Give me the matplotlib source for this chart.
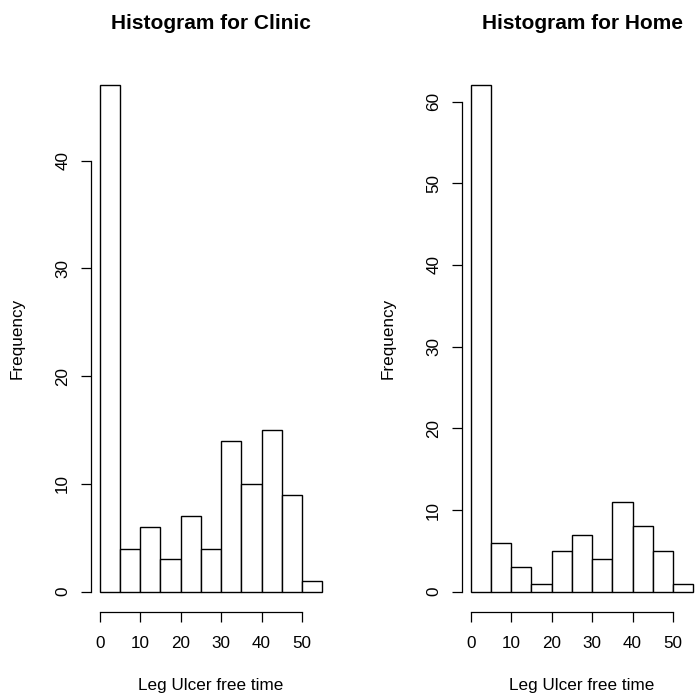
import numpy as np
import matplotlib
matplotlib.use("Agg")
import matplotlib.pyplot as plt

plt.rcParams['font.family'] = ['Liberation Sans', 'DejaVu Sans']

# bin edges (width 5) and counts
bin_edges = [0, 5, 10, 15, 20, 25, 30, 35, 40, 45, 50, 55]
clinic_counts = [47, 4, 6, 3, 7, 4, 14, 10, 15, 9, 1]
home_counts = [62, 6, 3, 1, 5, 7, 4, 11, 8, 5, 1]

x_ticks = [0, 10, 20, 30, 40, 50]
clinic_yticks = [0, 10, 20, 30, 40]
home_yticks = [0, 10, 20, 30, 40, 50, 60]

titles = ["Histogram for Clinic", "Histogram for Home"]
xlabel = "Leg Ulcer free time"
ylabel = "Frequency"

fig = plt.figure(figsize=(6.97, 6.95), dpi=100)
W, H = 697, 695


def r_hist(ax, counts, yticks, title):
    edges = np.array(bin_edges, dtype=float)
    widths = np.diff(edges)
    ax.bar(edges[:-1], counts, width=widths, align='edge',
           color='white', edgecolor='black', linewidth=1.0)
    # R style 4% padding
    xr = edges[-1] - edges[0]
    ax.set_xlim(edges[0] - 0.04 * xr, edges[-1] + 0.04 * xr)
    ymax = max(counts)
    ax.set_ylim(-0.04 * ymax, ymax * 1.04)
    for s in ['top', 'right']:
        ax.spines[s].set_visible(False)
    ax.spines['left'].set_bounds(yticks[0], yticks[-1])
    ax.spines['bottom'].set_bounds(x_ticks[0], x_ticks[-1])
    ax.spines['left'].set_linewidth(0.9)
    ax.spines['bottom'].set_linewidth(0.9)
    ax.set_xticks(x_ticks)
    ax.set_yticks(yticks)
    ax.tick_params(direction='out', length=7, width=0.9, labelsize=12.3)
    ax.tick_params(axis='x', pad=10)
    ax.tick_params(axis='y', pad=8)
    plt.setp(ax.get_yticklabels(), rotation=90, va='center')
    ax.set_title(title, fontsize=15, fontweight='bold', pad=26)
    ax.set_xlabel(xlabel, fontsize=12.3, labelpad=20)
    ax.set_ylabel(ylabel, fontsize=12.3, labelpad=22)
    ax.patch.set_visible(False)


ax1 = fig.add_axes([91 / W, 1 - 612 / H, 240 / W, 547 / H])
r_hist(ax1, clinic_counts, clinic_yticks, titles[0])

ax2 = fig.add_axes([462 / W, 1 - 612 / H, 240 / W, 547 / H])
r_hist(ax2, home_counts, home_yticks, titles[1])

fig.savefig("out.png", dpi=100)
